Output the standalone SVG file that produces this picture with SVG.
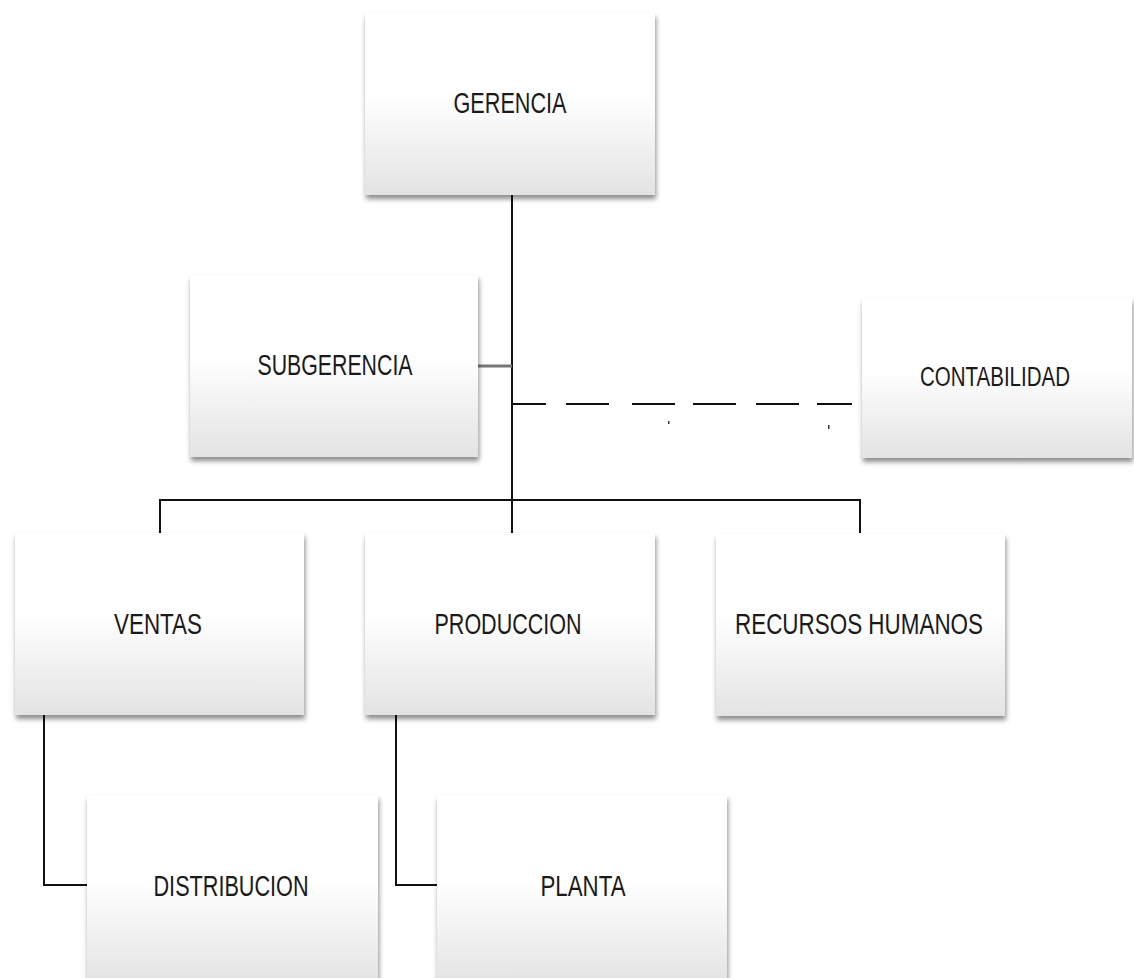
<svg xmlns="http://www.w3.org/2000/svg" width="1134" height="978" viewBox="0 0 1134 978">
<defs>
<linearGradient id="g" x1="0" y1="0" x2="0" y2="1">
<stop offset="0" stop-color="#ffffff"/>
<stop offset="0.45" stop-color="#ffffff"/>
<stop offset="1" stop-color="#e3e3e3"/>
</linearGradient>
<filter id="sh" x="-10%" y="-10%" width="125%" height="130%">
<feDropShadow dx="1" dy="4" stdDeviation="2.5" flood-color="#000" flood-opacity="0.45"/>
</filter>
</defs>
<style>
.box{fill:url(#g);filter:url(#sh);}
.t{font-family:"Liberation Sans",Arial,sans-serif;font-size:29px;fill:#1a1a1a;text-anchor:middle;}
.ln{stroke:#111;stroke-width:2;fill:none;}
</style>
<rect width="1134" height="978" fill="#fff"/>
<g id="connectors">
<path class="ln" d="M512 195 V500"/>
<path class="ln" d="M160 533 V500 H860 V533"/>
<path class="ln" d="M512 500 V533"/>
<path d="M478 366 H512" stroke="#777" stroke-width="3" fill="none"/>
<path class="ln" d="M512 404 H852" stroke-dasharray="34 20 43 23 43 18 43 20 43 18 35 100"/>
<path class="ln" d="M44 715 V885 H87"/>
<path class="ln" d="M396 715 V885 H437"/>
<rect x="668" y="421" width="1.5" height="3" fill="#333"/>
<rect x="828" y="425" width="1.5" height="4" fill="#333"/>
</g>
<g id="gerencia"><rect class="box" x="365" y="13" width="290" height="182"/><text class="t" x="510" y="113" textLength="113" lengthAdjust="spacingAndGlyphs">GERENCIA</text></g>
<g id="subgerencia"><rect class="box" x="190" y="275" width="288" height="182"/><text class="t" x="335" y="375" textLength="155" lengthAdjust="spacingAndGlyphs">SUBGERENCIA</text></g>
<g id="contabilidad"><rect class="box" x="862" y="298" width="270" height="160"/><text class="t" x="995" y="386" style="font-size:27px" textLength="150" lengthAdjust="spacingAndGlyphs">CONTABILIDAD</text></g>
<g id="ventas"><rect class="box" x="15" y="533" width="289" height="182"/><text class="t" x="158" y="634" textLength="88" lengthAdjust="spacingAndGlyphs">VENTAS</text></g>
<g id="produccion"><rect class="box" x="365" y="533" width="290" height="182"/><text class="t" x="508" y="634" textLength="147" lengthAdjust="spacingAndGlyphs">PRODUCCION</text></g>
<g id="recursos-humanos"><rect class="box" x="716" y="534" width="289" height="182"/><text class="t" x="859" y="634" textLength="248" lengthAdjust="spacingAndGlyphs">RECURSOS  HUMANOS</text></g>
<g id="distribucion"><rect class="box" x="87" y="795" width="291" height="190"/><text class="t" x="231" y="896" textLength="155" lengthAdjust="spacingAndGlyphs">DISTRIBUCION</text></g>
<g id="planta"><rect class="box" x="437" y="795" width="290" height="190"/><text class="t" x="583" y="896" textLength="85" lengthAdjust="spacingAndGlyphs">PLANTA</text></g>
</svg>
